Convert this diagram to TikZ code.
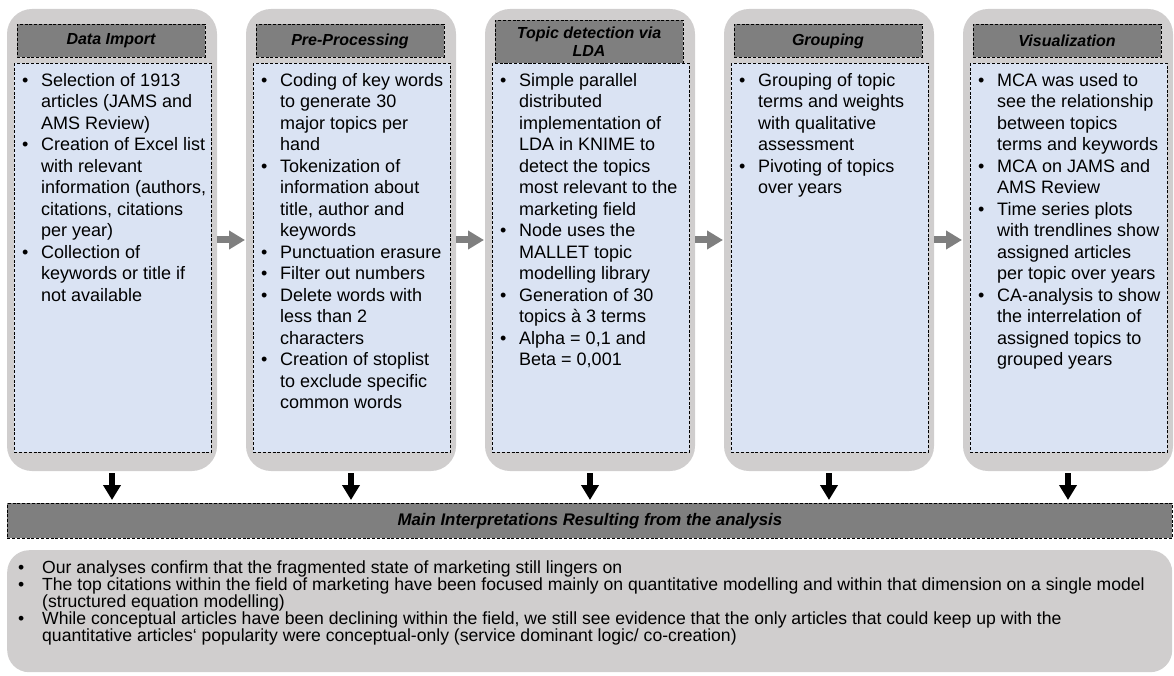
\documentclass[tikz,border=0pt]{standalone}
\usepackage{fontspec}
\setmainfont{Liberation Sans}
\usetikzlibrary{arrows.meta}
\definecolor{panelgrey}{RGB}{208,206,206}
\definecolor{darkgrey}{RGB}{127,127,127}
\definecolor{bodyblue}{RGB}{218,227,243}
\newcommand\bl[1]{\makebox[19pt][l]{\textbullet}#1}
\newcommand\cl[1]{\hspace*{19pt}#1}
\newcommand\bbl[1]{\makebox[24pt][l]{\textbullet}#1}
\newcommand\bcl[1]{\hspace*{24pt}#1}
\newcommand\fs{\rule{0pt}{14pt}}
\newcommand\stage[6]{%
  \node[panel] (p#1) at (#2,9) {};
  \node[bodybox] (b#1) at (#2+7,63) {};
  \node[hdr,minimum height=#4] (h#1) at (#2+104,#3) {#5};
  \node[bodytext] (t#1) at (#2+15,72) {\fs#6};
}
\begin{document}
\begin{tikzpicture}[x=1pt,y=-1pt,
  dashedline/.style={draw=black,line width=0.9pt,dash pattern=on 3pt off 1.8pt},
  panel/.style={fill=panelgrey,rounded corners=25pt,minimum width=210pt,minimum height=462pt,anchor=north west,inner sep=0pt,outer sep=0pt},
  hdr/.style={dashedline,fill=darkgrey,minimum width=188pt,anchor=north,inner sep=0pt,align=center,font=\fontsize{16}{17.5}\selectfont\bfseries\itshape},
  bodybox/.style={dashedline,fill=bodyblue,minimum width=197pt,minimum height=389pt,anchor=north west,inner sep=0pt},
  bodytext/.style={anchor=north west,inner sep=0pt,align=left,font=\fontsize{18}{21.5}\selectfont},
  greyarr/.style={draw=darkgrey,line width=7pt,-{Triangle[length=16pt,width=18pt]},shorten >=1pt},
  downarr/.style={draw=black,line width=6pt,-{Triangle[length=15pt,width=17pt]},shorten >=3pt},
  bar/.style={dashedline,fill=darkgrey,minimum width=1165pt,minimum height=35pt,anchor=north west,inner sep=0pt,font=\fontsize{16.8}{18}\selectfont\bfseries\itshape},
  bottompanel/.style={fill=panelgrey,rounded corners=22pt,minimum width=1165pt,minimum height=122pt,anchor=north west,inner sep=0pt},
  bottomtext/.style={anchor=north west,inner sep=0pt,align=left,font=\fontsize{17.6}{17}\selectfont}
]
\useasboundingbox (0,0) rectangle (1174,676);

\stage{1}{7}{24}{33pt}{Data Import}{%
\bl{Selection of 1913}\\
\cl{articles (JAMS and}\\
\cl{AMS Review)}\\
\bl{Creation of Excel list}\\
\cl{with relevant}\\
\cl{information (authors,}\\
\cl{citations, citations}\\
\cl{per year)}\\
\bl{Collection of}\\
\cl{keywords or title if}\\
\cl{not available}}

\stage{2}{246}{24}{33pt}{Pre-Processing}{%
\bl{Coding of key words}\\
\cl{to generate 30}\\
\cl{major topics per}\\
\cl{hand}\\
\bl{Tokenization of}\\
\cl{information about}\\
\cl{title, author and}\\
\cl{keywords}\\
\bl{Punctuation erasure}\\
\bl{Filter out numbers}\\
\bl{Delete words with}\\
\cl{less than 2}\\
\cl{characters}\\
\bl{Creation of stoplist}\\
\cl{to exclude specific}\\
\cl{common words}}

\stage{3}{485}{20}{43pt}{Topic detection via\\LDA}{%
\bl{Simple parallel}\\
\cl{distributed}\\
\cl{implementation of}\\
\cl{LDA in KNIME to}\\
\cl{detect the topics}\\
\cl{most relevant to the}\\
\cl{marketing field}\\
\bl{Node uses the}\\
\cl{MALLET topic}\\
\cl{modelling library}\\
\bl{Generation of 30}\\
\cl{topics à 3 terms}\\
\bl{Alpha = 0,1 and}\\
\cl{Beta = 0,001}}

\stage{4}{724}{24}{33pt}{Grouping}{%
\bl{Grouping of topic}\\
\cl{terms and weights}\\
\cl{with qualitative}\\
\cl{assessment}\\
\bl{Pivoting of topics}\\
\cl{over years}}

\stage{5}{963}{24}{33pt}{Visualization}{%
\bl{MCA was used to}\\
\cl{see the relationship}\\
\cl{between topics}\\
\cl{terms and keywords}\\
\bl{MCA on JAMS and}\\
\cl{AMS Review}\\
\bl{Time series plots}\\
\cl{with trendlines show}\\
\cl{assigned articles}\\
\cl{per topic over years}\\
\bl{CA-analysis to show}\\
\cl{the interrelation of}\\
\cl{assigned topics to}\\
\cl{grouped years}}

\foreach \a/\b in {1/2,2/3,3/4,4/5}{
  \draw[greyarr] (p\a.east) -- (p\b.west);
}

\node[bar] (mainbar) at (7,503) {Main Interpretations Resulting from the analysis};

\foreach \a in {1,...,5}{
  \draw[downarr] ([yshift=-2pt]p\a.south) -- (p\a.south |- mainbar.north);
}

\node[bottompanel] (bp) at (7,550) {};
\node[bottomtext] (bt) at (18,559) {\fs%
\bbl{Our analyses confirm that the fragmented state of marketing still lingers on}\\
\bbl{The top citations within the field of marketing have been focused mainly on quantitative modelling and within that dimension on a single model}\\
\bcl{(structured equation modelling)}\\
\bbl{While conceptual articles have been declining within the field, we still see evidence that the only articles that could keep up with the}\\
\bcl{quantitative articles‘ popularity were conceptual-only (service dominant logic/ co-creation)}};
\end{tikzpicture}
\end{document}
